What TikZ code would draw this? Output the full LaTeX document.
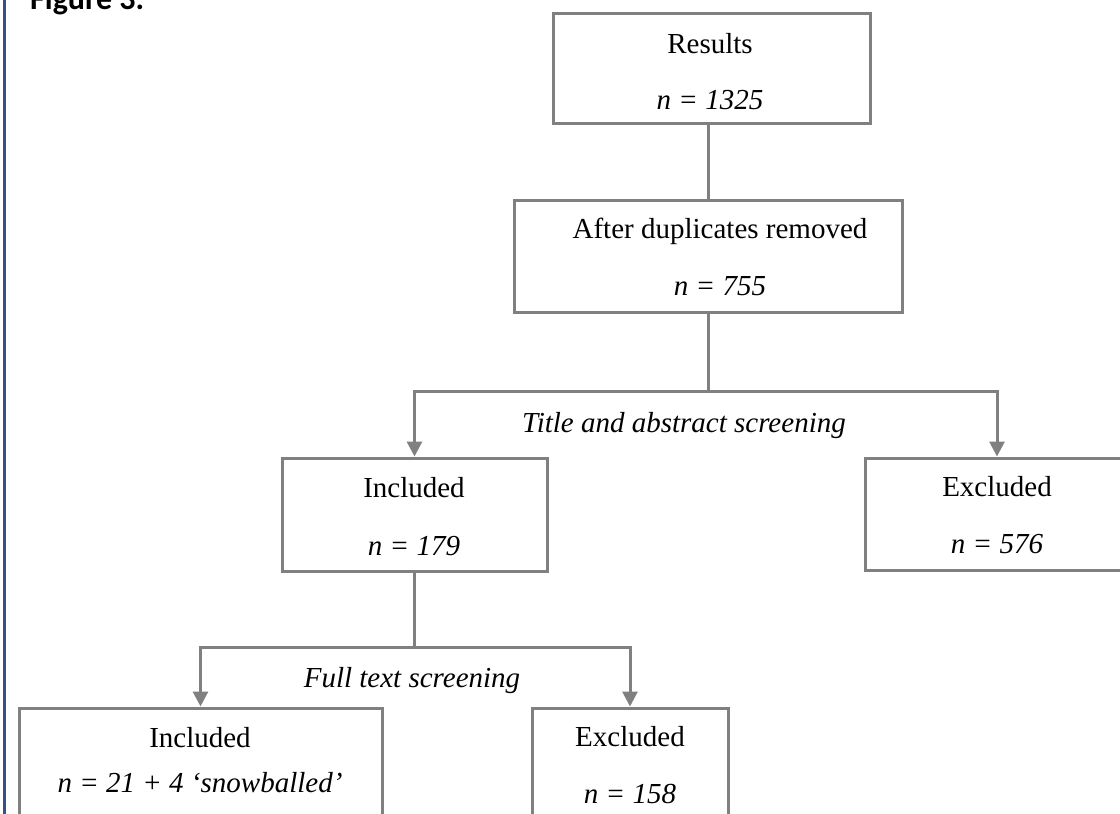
\documentclass[tikz,border=0pt]{standalone}
\usepackage{fontspec}
\setmainfont{Liberation Serif}
\newfontfamily\figfont{Carlito}
\usetikzlibrary{arrows.meta}
\definecolor{linegray}{RGB}{128,128,128}
\definecolor{borderblue}{RGB}{52,82,138}
\begin{document}
\begin{tikzpicture}[x=1pt,y=-1pt,
  box/.style={draw=linegray, line width=3pt, inner sep=0pt},
  txt/.style={anchor=base, inner sep=0pt, font=\fontsize{29}{34}\selectfont},
  itxt/.style={txt, font=\fontsize{29}{34}\selectfont\itshape},
  conn/.style={draw=linegray, line width=3pt},
  arr/.style={conn, -{Triangle[length=15pt,width=15pt]}}]
\useasboundingbox (0,0) rectangle (1120,814);
\clip (0,0) rectangle (1120,814);
% page border line
\draw[borderblue, line width=2.5pt] (4.7,-5) -- (4.7,820);
% caption (cut at top)
\node[anchor=base west, inner sep=0pt, font=\figfont\bfseries\fontsize{32}{38}\selectfont] (fig) at (30,9) {Figure 3.};
% boxes
\node[box, minimum width=317pt, minimum height=110pt] (res) at (711.5,68) {};
\node[box, minimum width=388pt, minimum height=112pt] (dup) at (708,256) {};
\node[box, minimum width=265pt, minimum height=113pt] (inc1) at (414.5,514.5) {};
\node[box, minimum width=264pt, minimum height=112pt] (exc1) at (997,514) {};
\node[box, minimum width=363pt, minimum height=122pt] (inc2) at (200.5,769) {};
\node[box, minimum width=196pt, minimum height=122pt] (exc2) at (630,769) {};
% texts
\node[txt] (resA) at (710,53) {Results};
\node[itxt] (resB) at (710,109) {n = 1325};
\node[txt] (dupA) at (720,238) {After duplicates removed};
\node[itxt] (dupB) at (720,295) {n = 755};
\node[itxt] (tas) at (684,432) {Title and abstract screening};
\node[txt] (inc1A) at (414,497) {Included};
\node[itxt] (inc1B) at (414,555) {n = 179};
\node[txt] (exc1A) at (997,496) {Excluded};
\node[itxt] (exc1B) at (997,553) {n = 576};
\node[itxt] (fts) at (412,687) {Full text screening};
\node[txt] (inc2A) at (200,747) {Included};
\node[itxt] (inc2B) at (200,792) {n = 21 + 4 ‘snowballed’};
\node[txt] (exc2A) at (630,746) {Excluded};
\node[itxt] (exc2B) at (630,803) {n = 158};
% connectors
\draw[conn] (dup.north |- res.south) -- (dup.north);
\coordinate (j1) at (708,391);
\draw[conn] (dup.south) -- (j1);
\draw[arr] (j1) -| (inc1.north);
\draw[arr] (j1) -| (exc1.north);
\coordinate (j2) at (414.5,647);
\draw[conn] (inc1.south) -- (j2);
\draw[arr] (j2) -| (inc2.north);
\draw[arr] (j2) -| (exc2.north);
\end{tikzpicture}
\end{document}
